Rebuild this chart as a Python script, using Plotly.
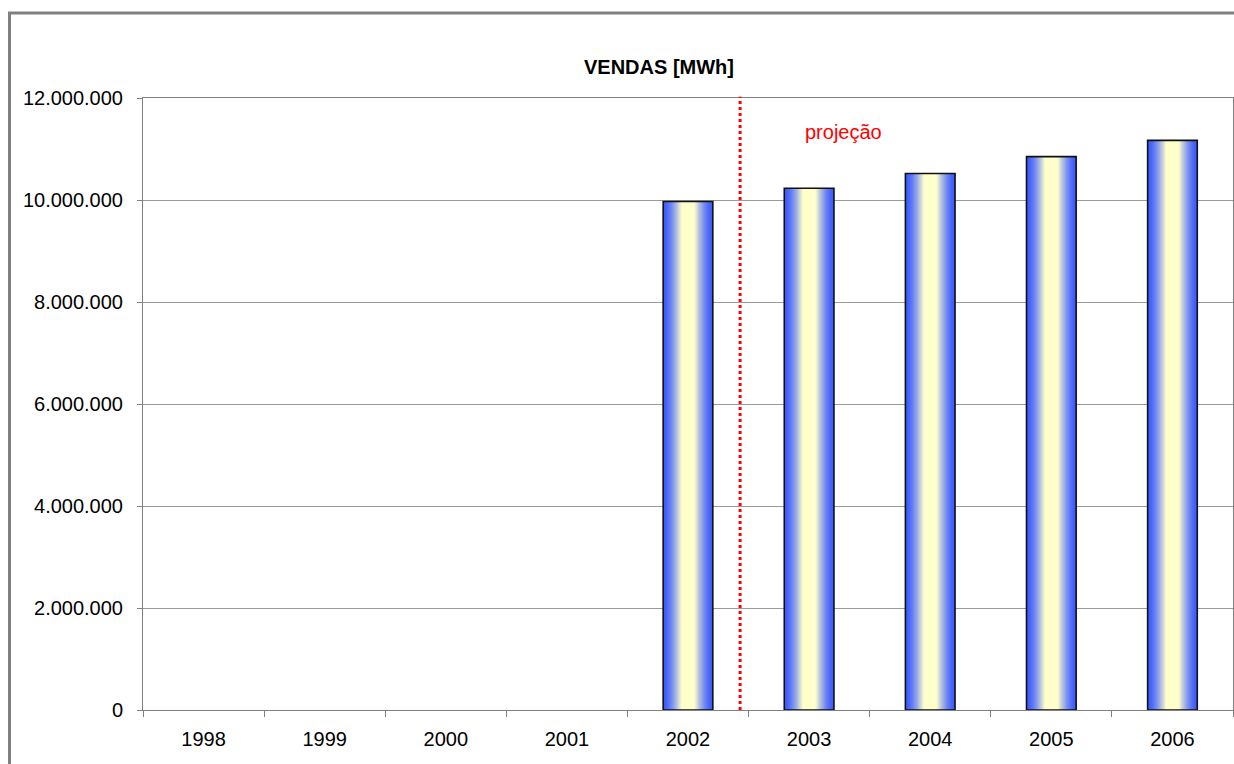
import plotly.graph_objects as go

years = ["1998", "1999", "2000", "2001", "2002", "2003", "2004", "2005", "2006"]
vendas = [None, None, None, None, 9970000, 10230000, 10520000, 10850000, 11170000]

projection_x = 4.43
projection_label = "projeção"
title = "VENDAS [MWh]"

FONT = "Liberation Sans, Arial, sans-serif"
BAR_W = 0.41
EDGE = (60, 92, 255)
CENTER = (255, 255, 204)
N = 20

W, H = 1234, 764
L, R, T, B = 143, 1, 98, 54
PW = W - L - R
PH = H - T - B

fig = go.Figure()

for k in range(N):
    f = k / N
    t = min(1.0, (f / 0.72) ** 1.5)
    c = tuple(int(round(EDGE[i] + (CENTER[i] - EDGE[i]) * t)) for i in range(3))
    w = BAR_W * (1 - f)
    fig.add_trace(go.Bar(
        x=years, y=vendas, width=w,
        marker=dict(color="rgb(%d,%d,%d)" % c, line=dict(width=0)),
        showlegend=False, hoverinfo="skip",
    ))

fig.add_trace(go.Bar(
    x=years, y=vendas, width=BAR_W,
    marker=dict(color="rgba(0,0,0,0)", line=dict(color="#111111", width=1.6)),
    showlegend=False, name="Vendas",
))

fig.add_shape(type="line", xref="x", yref="paper", x0=projection_x, x1=projection_x,
              y0=0, y1=1.002, line=dict(color="#ff0000", width=3, dash="dot"))

fig.add_annotation(x=5.285, y=11330000, xref="x", yref="y", text=projection_label,
                   showarrow=False, font=dict(family=FONT, size=20, color="#ff0000"))

# outer chart border (page coords: left 9.5, top 13)
fig.add_shape(type="rect", xref="paper", yref="paper",
              x0=(9.5 - L) / PW, x1=1.2, y0=-0.3, y1=(T + PH - 13) / PH,
              line=dict(color="#808080", width=3), fillcolor="rgba(0,0,0,0)", layer="below")

fig.update_layout(
    width=W, height=H,
    margin=dict(l=L, r=R, t=T, b=B, autoexpand=False),
    barmode="overlay",
    plot_bgcolor="white", paper_bgcolor="white",
    separators=",.",
    font=dict(family=FONT, size=20, color="#000000"),
    title=dict(text="<b>" + title + "</b>", x=(659 - L) / PW, xref="paper", xanchor="center",
               y=1 - 67 / H, yanchor="middle", font=dict(family=FONT, size=20, color="#000000")),
    xaxis=dict(type="category", showgrid=False, ticks="outside", tickson="boundaries",
               ticklen=6, tickcolor="#808080", showline=True, linecolor="#808080",
               linewidth=1, mirror=True, range=[-0.5, 8.5],
               tickfont=dict(family=FONT, size=20), ticklabelstandoff=11),
    yaxis=dict(range=[0, 12000000], dtick=2000000, tickformat=",", showgrid=True,
               gridcolor="#9a9a9a", gridwidth=1, ticks="outside", ticklen=5,
               tickcolor="#808080", showline=True, linecolor="#808080", linewidth=1,
               mirror=True, zeroline=False, tickfont=dict(family=FONT, size=20),
               ticklabelstandoff=10),
)

fig.write_html(
    "out.html",
    config={"displayModeBar": False},
    post_script="document.body.style.margin='0';"
                "document.documentElement.style.overflow='hidden';"
                "document.body.style.overflow='hidden';",
)
